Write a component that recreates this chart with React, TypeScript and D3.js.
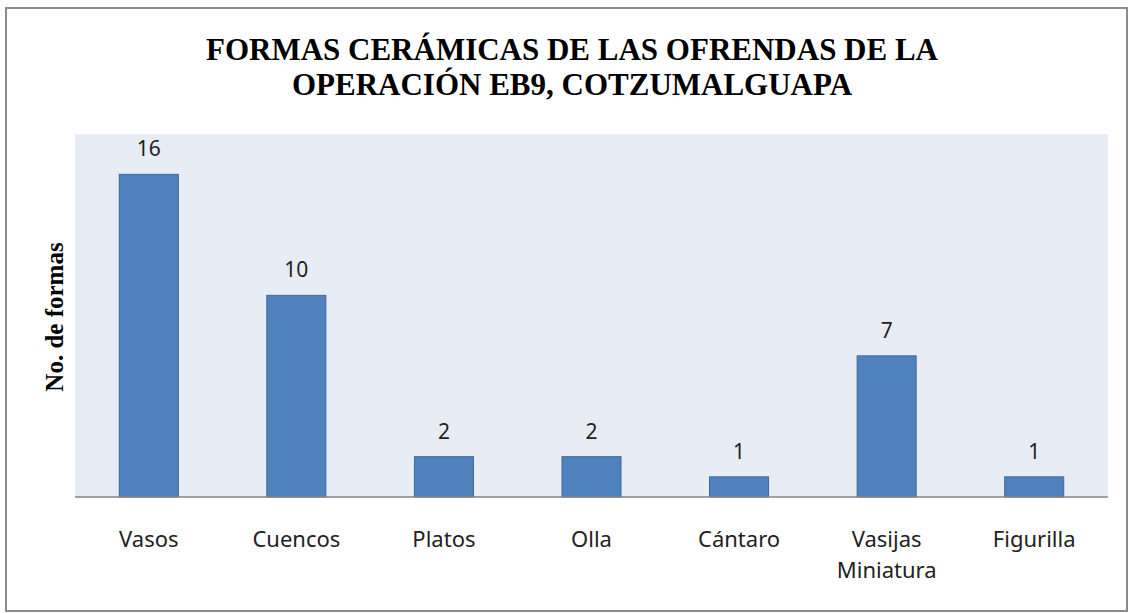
import * as d3 from "d3";
import React, { useRef, useEffect } from "react";

const categories = ["Vasos", "Cuencos", "Platos", "Olla", "Cántaro", "Vasijas Miniatura", "Figurilla"];
const values = [16, 10, 2, 2, 1, 7, 1];
const titleLines = ["FORMAS CERÁMICAS DE LAS OFRENDAS DE LA", "OPERACIÓN EB9, COTZUMALGUAPA"];
const yTitle = "No. de formas";

const W = 1130,
  H = 613;
const plot = { left: 75, right: 1108, top: 134, bottom: 497 };

function App() {
  const ref = useRef<SVGSVGElement>(null);

  useEffect(() => {
    const svg = d3.select(ref.current);
    svg.selectAll("*").remove();

    // outer frame
    svg
      .append("rect")
      .attr("x", 6)
      .attr("y", 8)
      .attr("width", 1121)
      .attr("height", 603)
      .attr("fill", "#fff")
      .attr("stroke", "#8c8c8c")
      .attr("stroke-width", 2);

    // plot background
    svg
      .append("rect")
      .attr("x", plot.left)
      .attr("y", plot.top)
      .attr("width", plot.right - plot.left)
      .attr("height", plot.bottom - plot.top)
      .attr("fill", "#e8ecf4");

    var x = d3
      .scaleBand()
      .domain(categories)
      .range([plot.left, plot.right])
      .paddingInner(0.6)
      .paddingOuter(0.3);

    var y = d3.scaleLinear().domain([0, 18]).range([plot.bottom, plot.top]);

    const data = categories.map((c, i) => ({ name: c, value: values[i] }));

    //Bars
    svg
      .selectAll("rect.bar")
      .data(data)
      .enter()
      .append("rect")
      .attr("class", "bar")
      .attr("x", (d) => x(d.name)!)
      .attr("y", (d) => y(d.value))
      .attr("width", x.bandwidth())
      .attr("height", (d) => y(0) - y(d.value))
      .attr("fill", "#4f81bd")
      .attr("stroke", "#3d6a9e")
      .attr("stroke-width", 1);

    // baseline
    svg
      .append("line")
      .attr("x1", plot.left)
      .attr("x2", plot.right)
      .attr("y1", y(0))
      .attr("y2", y(0))
      .attr("stroke", "#868686")
      .attr("stroke-width", 1.5);

    // value labels
    svg
      .selectAll("text.val")
      .data(data)
      .enter()
      .append("text")
      .attr("class", "val")
      .attr("x", (d) => x(d.name)! + x.bandwidth() / 2)
      .attr("y", (d) => y(d.value) - 18)
      .attr("text-anchor", "middle")
      .attr("font-family", "'Noto Sans', sans-serif")
      .attr("font-size", 21)
      .attr("fill", "#222")
      .text((d) => d.value);

    // category labels (wrapped)
    const cat = svg
      .selectAll("text.cat")
      .data(data)
      .enter()
      .append("text")
      .attr("class", "cat")
      .attr("text-anchor", "middle")
      .attr("font-family", "'Noto Sans', sans-serif")
      .attr("font-size", 22)
      .attr("fill", "#222");
    cat.each(function (d) {
      const words = d.name.split(" ");
      const t = d3.select(this);
      words.forEach((w, i) => {
        t.append("tspan")
          .attr("x", x(d.name)! + x.bandwidth() / 2)
          .attr("y", 547 + i * 31)
          .text(w);
      });
    });

    // title
    svg
      .append("g")
      .selectAll("text")
      .data(titleLines)
      .enter()
      .append("text")
      .attr("x", 572)
      .attr("y", (d, i) => 60 + i * 35)
      .attr("text-anchor", "middle")
      .attr("font-family", "'Liberation Serif', 'Times New Roman', serif")
      .attr("font-weight", "bold")
      .attr("font-size", 31)
      .attr("fill", "#000")
      .text((d) => d);

    // y axis title
    svg
      .append("text")
      .attr("transform", `translate(63,317) rotate(-90)`)
      .attr("text-anchor", "middle")
      .attr("font-family", "'Liberation Serif', 'Times New Roman', serif")
      .attr("font-weight", "bold")
      .attr("font-size", 25)
      .attr("fill", "#000")
      .text(yTitle);
  }, []);

  return (
    <div>
      <svg
        ref={ref}
        width={W}
        height={H}
        style={{ position: "absolute", left: 0, top: 0, background: "#fff" }}
      ></svg>
    </div>
  );
}

export default App;
